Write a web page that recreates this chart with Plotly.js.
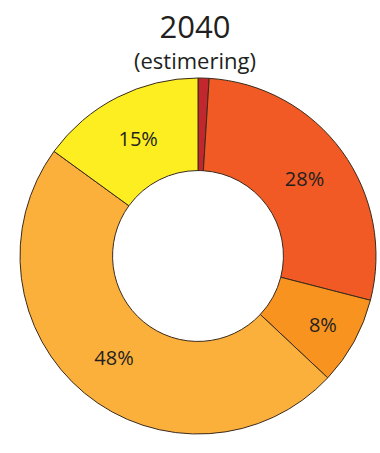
<!DOCTYPE html>
<html><head><meta charset="utf-8">
<script src="https://cdn.plot.ly/plotly-3.0.1.min.js"></script>
<style>html,body{margin:0;padding:0;background:#fff;}#chart{width:380px;height:453px;}</style>
</head><body><div id="chart"></div>
<script>
const categories = ["A", "B", "C", "D", "E"];
const values = [1, 28, 8, 48, 15];
const labelTexts = ["", "28%", "8%", "48%", "15%"];
const colors = ["#c1272d", "#f15a24", "#f7931e", "#fbb03b", "#fcee21"];
const titleText = "2040";
const subtitleText = "(estimering)";

const trace = {
  type: "pie",
  labels: categories,
  values: values,
  text: labelTexts,
  texttemplate: "%{text}",
  textinfo: "text",
  textposition: "inside",
  insidetextorientation: "horizontal",
  hole: 0.48,
  sort: false,
  direction: "clockwise",
  rotation: 0,
  marker: {colors: colors, line: {color: "#3b2a1c", width: 1}},
  textfont: {family: "Open Sans", size: 20, color: "#231f20"},
  domain: {x: [20/380, 376/380], y: [1 - 434/453, 1 - 78/453]},
  hoverinfo: "none",
  showlegend: false
};

const layout = {
  width: 380, height: 453,
  margin: {l: 0, r: 0, t: 0, b: 0},
  paper_bgcolor: "#fff",
  showlegend: false,
  title: {text: titleText, font: {family: "Open Sans", size: 31, color: "#231f20"},
          x: 0.513, xanchor: "center", y: 1 - 16/453, yanchor: "top", yref: "container"},
  annotations: [{text: subtitleText, xref: "paper", yref: "paper", x: 0.513, y: 1 - 43/453,
                 xanchor: "center", yanchor: "top", showarrow: false,
                 font: {family: "Open Sans", size: 22, color: "#231f20"}}]
};

Plotly.newPlot("chart", [trace], layout, {displayModeBar: false, staticPlot: true});
</script></body></html>
